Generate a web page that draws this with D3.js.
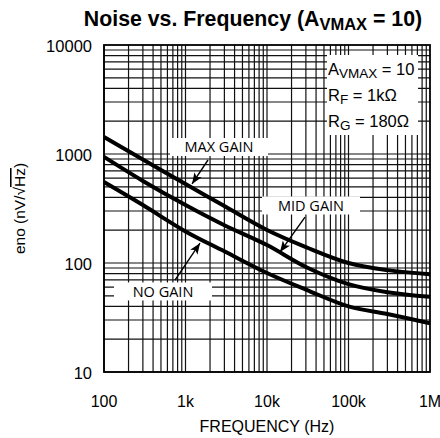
<!DOCTYPE html>
<html>
<head>
<meta charset="utf-8">
<script src="https://cdn.jsdelivr.net/npm/d3@7"></script>
<style>
  body { margin: 0; background: #fff; }
  svg { display: block; }
</style>
</head>
<body>
<svg id="chart" width="440" height="438"></svg>
<script>
// ---- data ----
var freqs    = [100, 300, 1000, 3000, 10000, 30000, 100000, 300000, 1000000];
var maxGain  = [1430, 890, 530, 333, 201, 140, 100, 86, 79];
var midGain  = [940, 566, 340, 222, 146, 92, 64, 54, 49];
var noGain   = [553, 340, 195, 128, 81, 57, 40, 34, 28];

var xTicks = [100, 1000, 10000, 100000, 1000000];
var xTickLabels = ["100", "1k", "10k", "100k", "1M"];
var yTicks = [10, 100, 1000, 10000];
var yTickLabels = ["10", "100", "1000", "10000"];

// label boxes and arrows, in data units (freq, value)
var annNames  = ["MAX GAIN", "MID GAIN", "NO GAIN"];
var annCenter = [[2577, 1159], [34670, 337], [530, 54.8]];
var annFrom   = [[1889, 881], [29260, 264], [743, 69.8]];
var annTip    = [[1202, 531], [14440, 126], [1506, 152]];

var legendLines = [["A", "VMAX", " = 10"], ["R", "F", " = 1k\u03A9"], ["R", "G", " = 180\u03A9"]];

// ---- layout ----
var margin = {top: 45, left: 104, right: 10, bottom: 66};
var width = 440, height = 438;
var innerW = width - margin.left - margin.right;
var innerH = height - margin.top - margin.bottom;

var svg = d3.select("#chart");
var g = svg.append("g").attr("transform", "translate(" + margin.left + "," + margin.top + ")");

var x = d3.scaleLog().domain([100, 1000000]).range([0, innerW]);
var y = d3.scaleLog().domain([10, 10000]).range([innerH, 0]);

// grid lines at 1..9 per decade
var xGrid = [], yGrid = [];
for (var d = 100; d < 1000000; d *= 10) {
    for (var k = 1; k < 10; k++) xGrid.push(d * k);
}
for (var d2 = 10; d2 < 10000; d2 *= 10) {
    for (var k2 = 1; k2 < 10; k2++) yGrid.push(d2 * k2);
}

g.selectAll(".vgrid").data(xGrid).enter().append("line")
    .attr("x1", function(v) { return x(v); })
    .attr("x2", function(v) { return x(v); })
    .attr("y1", 0).attr("y2", innerH)
    .attr("stroke", "#111").attr("stroke-width", 1.2);

g.selectAll(".hgrid").data(yGrid).enter().append("line")
    .attr("y1", function(v) { return y(v); })
    .attr("y2", function(v) { return y(v); })
    .attr("x1", 0).attr("x2", innerW)
    .attr("stroke", "#111").attr("stroke-width", 1.2);

g.append("rect")
    .attr("width", innerW).attr("height", innerH)
    .attr("fill", "none").attr("stroke", "#000").attr("stroke-width", 1.8);

// white boxes behind labels
var boxW = 98, boxH = 18;
g.selectAll(".annbox").data(annCenter).enter().append("rect")
    .attr("x", function(c) { return x(c[0]) - boxW / 2; })
    .attr("y", function(c) { return y(c[1]) - boxH / 2; })
    .attr("width", boxW).attr("height", boxH)
    .attr("fill", "#fff");

g.selectAll(".anntext").data(annCenter).enter().append("text")
    .attr("x", function(c) { return x(c[0]); })
    .attr("y", function(c) { return y(c[1]); })
    .attr("dy", "0.36em")
    .attr("text-anchor", "middle")
    .style("font-family", "'Open Sans', sans-serif")
    .style("font-size", "14.5px")
    .text(function(c, i) { return annNames[i]; });

// legend box (top right)
var leg = g.append("g").attr("transform", "translate(" + (innerW - 103) + ",10)");
leg.append("rect").attr("width", 91).attr("height", 80).attr("fill", "#fff");
legendLines.forEach(function(parts, i) {
    var t = leg.append("text")
        .attr("x", 1).attr("y", 20 + i * 26)
        .style("font-family", "'Liberation Sans', Arial, sans-serif")
        .style("font-size", "16.5px");
    t.append("tspan").text(parts[0]);
    t.append("tspan").attr("dy", 3).style("font-size", "13.5px").text(parts[1]);
    t.append("tspan").attr("dy", -3).text(parts[2]);
});

// curves
var line = d3.line()
    .x(function(p) { return x(p[0]); })
    .y(function(p) { return y(p[1]); })
    .curve(d3.curveCatmullRom.alpha(0.5));

[maxGain, midGain, noGain].forEach(function(series) {
    g.append("path")
        .datum(freqs.map(function(f, i) { return [f, series[i]]; }))
        .attr("d", line)
        .attr("fill", "none")
        .attr("stroke", "#000")
        .attr("stroke-width", 4);
});

// arrows
svg.append("defs").append("marker")
    .attr("id", "head")
    .attr("viewBox", "0 0 10 10")
    .attr("refX", 10).attr("refY", 5)
    .attr("markerWidth", 11).attr("markerHeight", 11)
    .attr("markerUnits", "userSpaceOnUse")
    .attr("orient", "auto")
    .append("path").attr("d", "M0,1 L10,5 L0,9 L2.5,5 Z").attr("fill", "#000");

g.selectAll(".arrow").data(annFrom).enter().append("line")
    .attr("x1", function(p) { return x(p[0]); })
    .attr("y1", function(p) { return y(p[1]); })
    .attr("x2", function(p, i) { return x(annTip[i][0]); })
    .attr("y2", function(p, i) { return y(annTip[i][1]); })
    .attr("stroke", "#000").attr("stroke-width", 1.4)
    .attr("marker-end", "url(#head)");

// tick labels
g.selectAll(".xlab").data(xTicks).enter().append("text")
    .attr("x", function(v) { return x(v); })
    .attr("y", innerH + 35)
    .attr("text-anchor", "middle")
    .style("font-family", "'Liberation Sans', Arial, sans-serif")
    .style("font-size", "16px")
    .text(function(v, i) { return xTickLabels[i]; });

g.selectAll(".ylab").data(yTicks).enter().append("text")
    .attr("x", -12)
    .attr("y", function(v) { return y(v); })
    .attr("dy", "0.45em")
    .attr("text-anchor", "end")
    .style("font-family", "'Liberation Sans', Arial, sans-serif")
    .style("font-size", "16.5px")
    .text(function(v, i) { return yTickLabels[i]; });

// axis titles
svg.append("text")
    .attr("x", margin.left + innerW / 2)
    .attr("y", 432)
    .attr("text-anchor", "middle")
    .style("font-family", "'Liberation Sans', Arial, sans-serif")
    .style("font-size", "16px")
    .text("FREQUENCY (Hz)");

var yt = svg.append("text")
    .attr("transform", "translate(25," + (margin.top + innerH / 2) + ") rotate(-90)")
    .attr("text-anchor", "middle")
    .style("font-family", "'Liberation Sans', Arial, sans-serif")
    .style("font-size", "15.5px");
yt.append("tspan").text("eno (nV/\u221A");
yt.append("tspan").style("text-decoration", "overline").text("Hz");
yt.append("tspan").text(")");

// title
var title = svg.append("text")
    .attr("x", 253).attr("y", 26)
    .attr("text-anchor", "middle")
    .style("font-family", "'Liberation Sans', Arial, sans-serif")
    .style("font-weight", "bold")
    .style("font-size", "21.3px");
title.append("tspan").text("Noise vs. Frequency (A");
title.append("tspan").attr("dy", 4).style("font-size", "16.5px").text("VMAX");
title.append("tspan").attr("dy", -4).text(" = 10)");
</script>
</body>
</html>
